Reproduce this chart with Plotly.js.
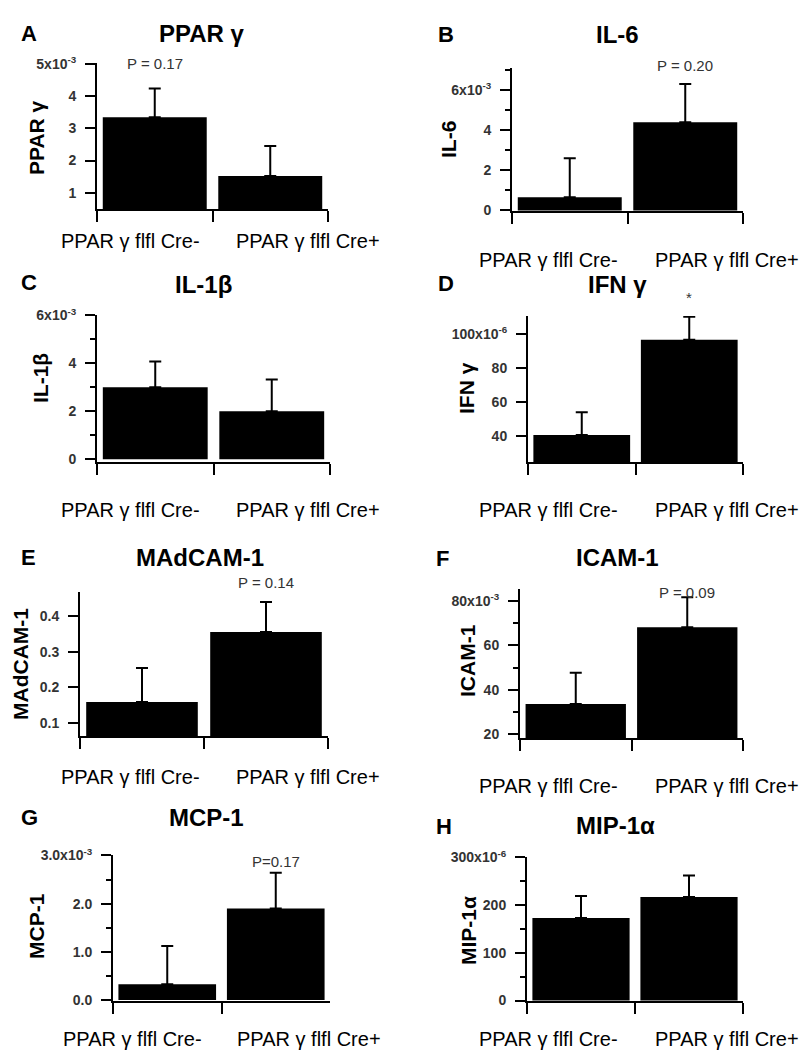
<!DOCTYPE html>
<html>
<head>
<meta charset="utf-8">
<script src="https://cdn.plot.ly/plotly-3.0.1.min.js"></script>
<style>html,body{margin:0;padding:0;background:#fff}</style>
</head>
<body>
<div id="chart" style="width:803px;height:1050px"></div>
<script>
const W = 803, H = 1050;
const FONT = 'Liberation Sans, Arial, sans-serif';

const groups = ['PPAR γ flfl Cre-', 'PPAR γ flfl Cre+'];

// mean and upper error (SEM) of each group
const pparMean = [3.34e-3, 1.52e-3];
const pparErr = [0.89e-3, 0.93e-3];
const il6Mean = [0.65e-3, 4.4e-3];
const il6Err = [1.95e-3, 1.9e-3];
const il1bMean = [3.0e-3, 2.0e-3];
const il1bErr = [1.08e-3, 1.33e-3];
const ifngMean = [40.5e-6, 96.5e-6];
const ifngErr = [13.5e-6, 13.5e-6];
const madcamMean = [0.159, 0.355];
const madcamErr = [0.095, 0.084];
const icamMean = [33.6e-3, 68.2e-3];
const icamErr = [14.1e-3, 13.6e-3];
const mcpMean = [0.33e-3, 1.9e-3];
const mcpErr = [0.79e-3, 0.74e-3];
const mipMean = [173e-6, 217e-6];
const mipErr = [46e-6, 45e-6];

// y ticks
const pparTicks = [1e-3, 2e-3, 3e-3, 4e-3, 5e-3];
const pparTickText = ['1', '2', '3', '4', '5x10<sup>-3</sup>'];
const il6Ticks = [0, 2e-3, 4e-3, 6e-3];
const il6TickText = ['0', '2', '4', '6x10<sup>-3</sup>'];
const il6Minor = [1e-3, 3e-3, 5e-3, 7e-3];
const il1bTicks = [0, 2e-3, 4e-3, 6e-3];
const il1bTickText = ['0', '2', '4', '6x10<sup>-3</sup>'];
const il1bMinor = [1e-3, 3e-3, 5e-3];
const ifngTicks = [40e-6, 60e-6, 80e-6, 100e-6];
const ifngTickText = ['40', '60', '80', '100x10<sup>-6</sup>'];
const madcamTicks = [0.1, 0.2, 0.3, 0.4];
const madcamTickText = ['0.1', '0.2', '0.3', '0.4'];
const icamTicks = [20e-3, 40e-3, 60e-3, 80e-3];
const icamTickText = ['20', '40', '60', '80x10<sup>-3</sup>'];
const icamMinor = [30e-3, 50e-3, 70e-3];
const mcpTicks = [0, 1e-3, 2e-3, 3e-3];
const mcpTickText = ['0.0', '1.0', '2.0', '3.0x10<sup>-3</sup>'];
const mcpMinor = [0.5e-3, 1.5e-3, 2.5e-3];
const mipTicks = [0, 100e-6, 200e-6, 300e-6];
const mipTickText = ['0', '100', '200', '300x10<sup>-6</sup>'];
const mipMinor = [50e-6, 150e-6, 250e-6];

// panel layout: box = [left, right, top, bottom] in pixels
const panels = [
	{letter: 'A', title: 'PPAR γ', ylab: 'PPAR γ', mean: pparMean, err: pparErr, ticks: pparTicks, tickText: pparTickText, minor: null,
		yRange: [0.5e-3, 5.02e-3], box: [97, 328, 63, 209], letterXY: [29, 33], titleXY: [202, 33], ylabXY: [36, 138], xlabY: 241, labX: [130, 308],
		p: 'P = 0.17', pBar: 0, pY: 63},
	{letter: 'B', title: 'IL-6', ylab: 'IL-6', mean: il6Mean, err: il6Err, ticks: il6Ticks, tickText: il6TickText, minor: il6Minor,
		yRange: [-0.03e-3, 7.1e-3], box: [512, 743, 68, 211], letterXY: [446, 34], titleXY: [617, 34], ylabXY: [449, 140], xlabY: 260, labX: [548, 727],
		p: 'P = 0.20', pBar: 1, pY: 65},
	{letter: 'C', title: 'IL-1β', ylab: 'IL-1β', mean: il1bMean, err: il1bErr, ticks: il1bTicks, tickText: il1bTickText, minor: il1bMinor,
		yRange: [-0.12e-3, 6.02e-3], box: [97, 330, 315, 462], letterXY: [29, 282], titleXY: [203, 284], ylabXY: [40, 378], xlabY: 510, labX: [130, 308],
		p: null},
	{letter: 'D', title: 'IFN γ', ylab: 'IFN γ', mean: ifngMean, err: ifngErr, ticks: ifngTicks, tickText: ifngTickText, minor: null,
		yRange: [24.7e-6, 110.5e-6], box: [528, 743, 316, 462], letterXY: [446, 283], titleXY: [617, 284], ylabXY: [466, 388], xlabY: 510, labX: [548, 727],
		p: '*', pBar: 1, pY: 298},
	{letter: 'E', title: 'MAdCAM-1', ylab: 'MAdCAM-1', mean: madcamMean, err: madcamErr, ticks: madcamTicks, tickText: madcamTickText, minor: null,
		yRange: [0.064, 0.467], box: [80, 328, 592, 736], letterXY: [28, 557], titleXY: [200, 557], ylabXY: [20, 664], xlabY: 777, labX: [130, 308],
		p: 'P = 0.14', pBar: 1, pY: 582},
	{letter: 'F', title: 'ICAM-1', ylab: 'ICAM-1', mean: icamMean, err: icamErr, ticks: icamTicks, tickText: icamTickText, minor: icamMinor,
		yRange: [18.2e-3, 85.5e-3], box: [520, 743, 589, 738], letterXY: [442, 558], titleXY: [617, 557], ylabXY: [467, 661], xlabY: 786, labX: [548, 727],
		p: 'P = 0.09', pBar: 1, pY: 592},
	{letter: 'G', title: 'MCP-1', ylab: 'MCP-1', mean: mcpMean, err: mcpErr, ticks: mcpTicks, tickText: mcpTickText, minor: mcpMinor,
		yRange: [-0.02e-3, 3.01e-3], box: [113, 330, 855, 1001], letterXY: [30, 817], titleXY: [207, 817], ylabXY: [36, 926], xlabY: 1039, labX: [132, 309],
		p: 'P=0.17', pBar: 1, pY: 861},
	{letter: 'H', title: 'MIP-1α', ylab: 'MIP-1α', mean: mipMean, err: mipErr, ticks: mipTicks, tickText: mipTickText, minor: mipMinor,
		yRange: [-1e-6, 301e-6], box: [527, 743, 857, 1001], letterXY: [444, 826], titleXY: [615, 825], ylabXY: [468, 931], xlabY: 1039, labX: [548, 727],
		p: null}
];

const px = x => x / W;
const py = y => 1 - y / H;

const data = [];
const annotations = [];
const layout = {
	width: W, height: H,
	margin: {l: 0, r: 0, t: 0, b: 0},
	showlegend: false,
	bargap: 0.1,
	paper_bgcolor: '#fff',
	plot_bgcolor: '#fff',
	font: {family: FONT, color: '#000'},
	annotations: annotations
};

function note(text, x, y, size, opts) {
	annotations.push(Object.assign({
		text: text, x: px(x), y: py(y), xref: 'paper', yref: 'paper',
		xanchor: 'center', yanchor: 'middle', showarrow: false,
		font: {family: FONT, size: size, color: '#000'}
	}, opts || {}));
}

panels.forEach((p, i) => {
	const n = i === 0 ? '' : String(i + 1);
	const xa = 'x' + n, ya = 'y' + n;

	data.push({
		type: 'bar', x: groups, y: p.mean, xaxis: xa, yaxis: ya,
		marker: {color: '#000', line: {width: 0}},
		error_y: {type: 'data', symmetric: false, array: p.err, arrayminus: [0, 0], color: '#000', thickness: 2, width: 6},
		hoverinfo: 'none'
	});

	layout['xaxis' + n] = {
		domain: [px(p.box[0]), px(p.box[1])], anchor: ya,
		type: 'category', range: [-0.5, 1.5],
		showline: true, linecolor: '#000', linewidth: 2,
		ticks: 'outside', tickson: 'boundaries', ticklen: 11, tickwidth: 2, tickcolor: '#000',
		showticklabels: false, showgrid: false, zeroline: false, fixedrange: true
	};

	const yaxis = {
		domain: [py(p.box[3]), py(p.box[2])], anchor: xa,
		range: p.yRange,
		showline: true, linecolor: '#000', linewidth: 2,
		tickmode: 'array', tickvals: p.ticks, ticktext: p.tickText,
		ticks: 'outside', ticklen: 10, tickwidth: 2, tickcolor: '#000',
		ticklabelstandoff: 6,
		tickfont: {family: FONT, size: 14, color: '#333', weight: 'bold'},
		showgrid: false, zeroline: false, fixedrange: true
	};
	if (p.minor) {
		yaxis.minor = {tickmode: 'array', tickvals: p.minor, ticks: 'outside', ticklen: 5, tickwidth: 2, tickcolor: '#000'};
	}
	layout['yaxis' + n] = yaxis;

	note('<b>' + p.letter + '</b>', p.letterXY[0], p.letterXY[1], 22);
	note('<b>' + p.title + '</b>', p.titleXY[0], p.titleXY[1], 24);
	note('<b>' + p.ylab + '</b>', p.ylabXY[0], p.ylabXY[1], 21, {textangle: -90});
	groups.forEach((g, k) => note(g, p.labX[k], p.xlabY, 20));

	if (p.p) {
		annotations.push({
			text: p.p, xref: xa, x: groups[p.pBar], yref: 'paper', y: py(p.pY),
			xanchor: 'center', yanchor: 'middle', showarrow: false,
			font: {family: FONT, size: 15, color: '#333'}
		});
	}
});

Plotly.newPlot('chart', data, layout, {staticPlot: true});
</script>
</body>
</html>
